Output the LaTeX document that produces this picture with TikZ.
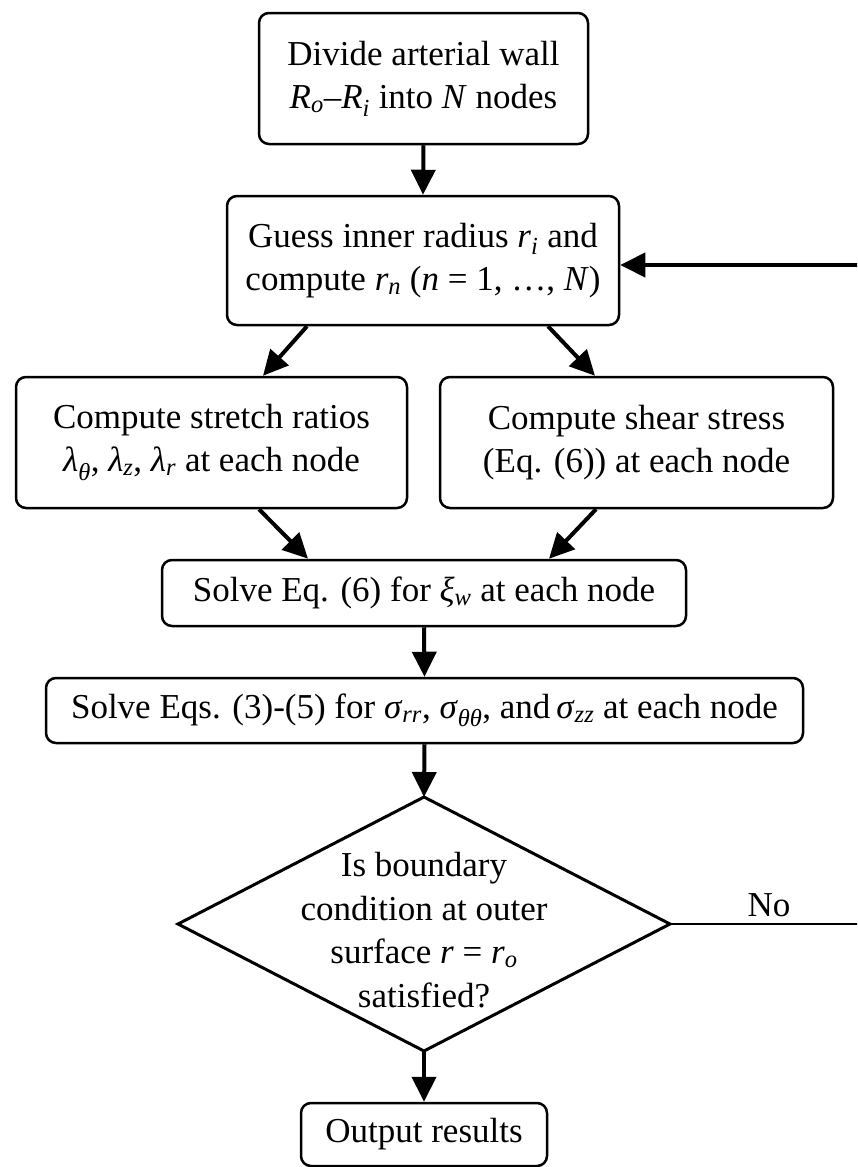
\documentclass[tikz,border=0pt]{standalone}
\usepackage{fontspec}
\setmainfont{Liberation Serif}
\usetikzlibrary{arrows.meta}
\newcommand{\isub}[1]{\textsubscript{\textit{#1}}}
\begin{document}
\begin{tikzpicture}[x=1pt,y=-1pt,
  txt/.style={align=center, inner sep=0pt, font=\fontsize{35}{43.5}\selectfont},
  box/.style={txt, draw, line width=2.5pt, rounded corners=10pt},
  arr/.style={line width=4pt, -{Triangle[length=25pt,width=24pt]}},
  thinline/.style={line width=2pt}]
\clip (0,0) rectangle (857,1167);
\fill[white] (0,0) rectangle (857,1167);

\node[box, minimum width=329pt, minimum height=131pt] (b1) at (423.5,78.5)
  {Divide arterial wall\\\textit{R}\isub{o}--\textit{R}\isub{i} into \textit{N} nodes};
\node[box, minimum width=392pt, minimum height=129pt] (b2) at (423,260.5)
  {Guess inner radius \textit{r}\isub{i} and\\compute \textit{r}\isub{n} (\textit{n} = 1, …, \textit{N})};
\node[box, minimum width=391pt, minimum height=131pt] (b3) at (211.5,442.5)
  {Compute stretch ratios\\\textit{λ}\isub{θ}, \textit{λ}\isub{z}, \textit{λ}\isub{r} at each node};
\node[box, minimum width=393pt, minimum height=131pt] (b4) at (636.5,442.5)
  {Compute shear stress\\(Eq. (6)) at each node};
\node[box, minimum width=524pt, minimum height=66pt] (b5) at (424,593)
  {Solve Eq. (6) for \textit{ξ}\isub{w} at each node};
\node[box, minimum width=757pt, minimum height=65pt] (b6) at (424.5,710.5)
  {Solve Eqs. (3)-(5) for \textit{σ}\isub{rr}, \textit{σ}\isub{θθ}, and\,\textit{σ}\isub{zz} at each node};

\coordinate (dtop) at (424,797);
\coordinate (dleft) at (178,924);
\coordinate (dright) at (670,924);
\coordinate (dbot) at (424,1051);
\draw[line width=3pt, line join=miter] (dtop) -- (dright) -- (dbot) -- (dleft) -- cycle;
\node[txt] (dtext) at (424,930)
  {Is boundary\\condition at outer\\surface \textit{r} = \textit{r}\isub{o}\\satisfied?};

\node[box, minimum width=246pt, minimum height=63pt] (b7) at (424,1134.5) {Output results};

\node[txt] (no) at (769,905) {No};
\coordinate (loop) at (880,924);

\draw[arr] (b1.south) -- (b2.north);
\draw[arr] ([xshift=-116pt]b2.south) -- ([xshift=51.5pt]b3.north);
\draw[arr] ([xshift=125pt]b2.south) -- ([xshift=-41.5pt]b4.north);
\draw[arr] ([xshift=47.5pt]b3.south) -- ([xshift=-116pt]b5.north);
\draw[arr] ([xshift=-40.5pt]b4.south) -- ([xshift=125pt]b5.north);
\draw[arr] (b5.south) -- (b6.north);
\draw[arr] (b6.south) -- (dtop);
\draw[arr] (dbot) -- (b7.north);
\draw[thinline] (dright) -- (loop);
\draw[arr] (loop) |- ([yshift=-4.5pt]b2.east);
\end{tikzpicture}
\end{document}
